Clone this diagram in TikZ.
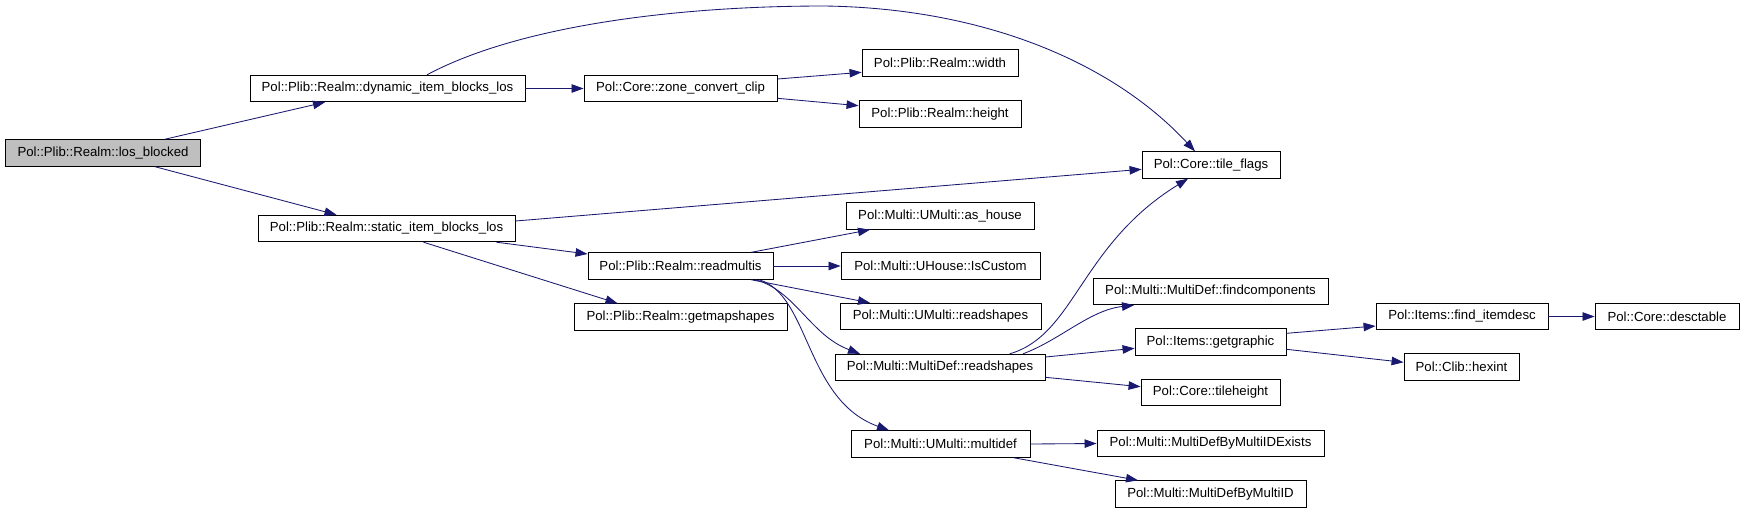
\documentclass[tikz,border=0pt]{standalone}
\usepackage{fontspec}
\setmainfont{Liberation Sans}
\usetikzlibrary{arrows.meta,calc}
\definecolor{edgec}{HTML}{191970}
\definecolor{rootfill}{HTML}{BFBFBF}
\begin{document}
\begin{tikzpicture}[x=1pt,y=-1pt,
 fn/.style={draw=black,line width=0.9pt,fill=white,inner sep=0pt,minimum height=26.5pt,font=\fontsize{13.2}{15}\selectfont},
 call/.style={draw=edgec,line width=0.85pt,-{Triangle[length=12pt,width=8.5pt,fill=edgec]}}]
\useasboundingbox (0,0) rectangle (1744,512);
\fill[white] (0,0) rectangle (1744,512);
% nodes
\node[fn,fill=rootfill,minimum width=195pt] (A) at (103,153) {Pol::Plib::Realm::los\_blocked};
\node[fn,minimum width=275pt] (B) at (387.5,88.5) {Pol::Plib::Realm::dynamic\_item\_blocks\_los};
\node[fn,minimum width=257pt] (C) at (386.5,228.5) {Pol::Plib::Realm::static\_item\_blocks\_los};
\node[fn,minimum width=193pt] (D) at (680.5,88.5) {Pol::Core::zone\_convert\_clip};
\node[fn,minimum width=156pt] (E) at (940,63) {Pol::Plib::Realm::width};
\node[fn,minimum width=162pt] (F) at (940,114) {Pol::Plib::Realm::height};
\node[fn,minimum width=138pt] (G) at (1211,165) {Pol::Core::tile\_flags};
\node[fn,minimum width=188pt] (H) at (940,216) {Pol::Multi::UMulti::as\_house};
\node[fn,minimum width=185pt] (I) at (680.5,266) {Pol::Plib::Realm::readmultis};
\node[fn,minimum width=199pt] (J) at (940.5,266) {Pol::Multi::UHouse::IsCustom};
\node[fn,minimum width=213pt] (K) at (680.5,317) {Pol::Plib::Realm::getmapshapes};
\node[fn,minimum width=201pt] (L) at (940.5,316.5) {Pol::Multi::UMulti::readshapes};
\node[fn,minimum width=210pt] (M) at (940,367.5) {Pol::Multi::MultiDef::readshapes};
\node[fn,minimum width=179pt] (N) at (940.5,444) {Pol::Multi::UMulti::multidef};
\node[fn,minimum width=235pt] (O) at (1210.5,291.5) {Pol::Multi::MultiDef::findcomponents};
\node[fn,minimum width=151pt] (P) at (1210.5,342) {Pol::Items::getgraphic};
\node[fn,minimum width=139pt] (Q) at (1210.5,392.5) {Pol::Core::tileheight};
\node[fn,minimum width=227pt] (R) at (1210.5,443.5) {Pol::Multi::MultiDefByMultiIDExists};
\node[fn,minimum width=191pt] (S) at (1210.5,494) {Pol::Multi::MultiDefByMultiID};
\node[fn,minimum width=172pt] (T) at (1462,316.5) {Pol::Items::find\_itemdesc};
\node[fn,minimum width=115pt] (U) at (1461.5,367) {Pol::Clib::hexint};
\node[fn,minimum width=144pt] (V) at (1667,316.5) {Pol::Core::desctable};
% edges
\draw[call] ($(A.north)+(61.6,0)$) -- ($(B.south)+(-62.5,0)$);
\draw[call] ($(A.south)+(52,0)$) -- ($(C.north)+(-50,0)$);
\draw[call] (B.east) -- (D.west);
\draw[call] ($(B.north)+(39.5,0)$) .. controls (520,25) and (680,6) .. (824,6)
  .. controls (980,8) and (1110,60) .. ($(G.north)+(-16,0)$);
\draw[call] ($(D.east)+(0,-9.5)$) -- ($(E.west)+(0,9.3)$);
\draw[call] ($(D.east)+(0,9.8)$) -- ($(F.west)+(0,-8.3)$);
\draw[call] ($(C.east)+(0,-7.5)$) -- ($(G.west)+(0,4.3)$);
\draw[call] ($(C.south east)+(-19,0)$) -- ($(I.west)+(0,-12)$);
\draw[call] ($(C.south)+(37,0)$) -- ($(K.north)+(-63,0)$);
\draw[call] ($(I.north)+(70.8,0)$) -- ($(H.south)+(-70,0)$);
\draw[call] (I.east) -- (J.west);
\draw[call] ($(I.south)+(70.5,0)$) -- ($(L.north)+(-70.5,0)$);
\draw[call] ($(I.south)+(74.5,0)$) .. controls (795,290) and (810,335) .. ($(M.north)+(-80,0)$);
\draw[call] ($(I.south)+(78.5,0)$) .. controls (810,295) and (805,400) .. ($(N.north)+(-51.5,0)$);
\draw[call] ($(M.north)+(69.7,0)$) .. controls (1075,335) and (1080,245) .. ($(G.south)+(-23,0)$);
\draw[call] ($(M.north)+(83,0)$) .. controls (1060,340) and (1090,310) .. ($(O.south)+(-76.5,0)$);
\draw[call] ($(M.east)+(0,-10.5)$) -- ($(P.west)+(0,6.3)$);
\draw[call] ($(M.east)+(0,9.8)$) -- ($(Q.west)+(0,-5.8)$);
\draw[call] (N.east) -- (R.west);
\draw[call] ($(N.south)+(73,0)$) -- ($(S.north)+(-72.5,0)$);
\draw[call] ($(P.east)+(0,-8.7)$) -- ($(T.west)+(0,9.5)$);
\draw[call] ($(P.east)+(0,7.3)$) -- ($(U.west)+(0,-4.7)$);
\draw[call] (T.east) -- (V.west);
\end{tikzpicture}
\end{document}
